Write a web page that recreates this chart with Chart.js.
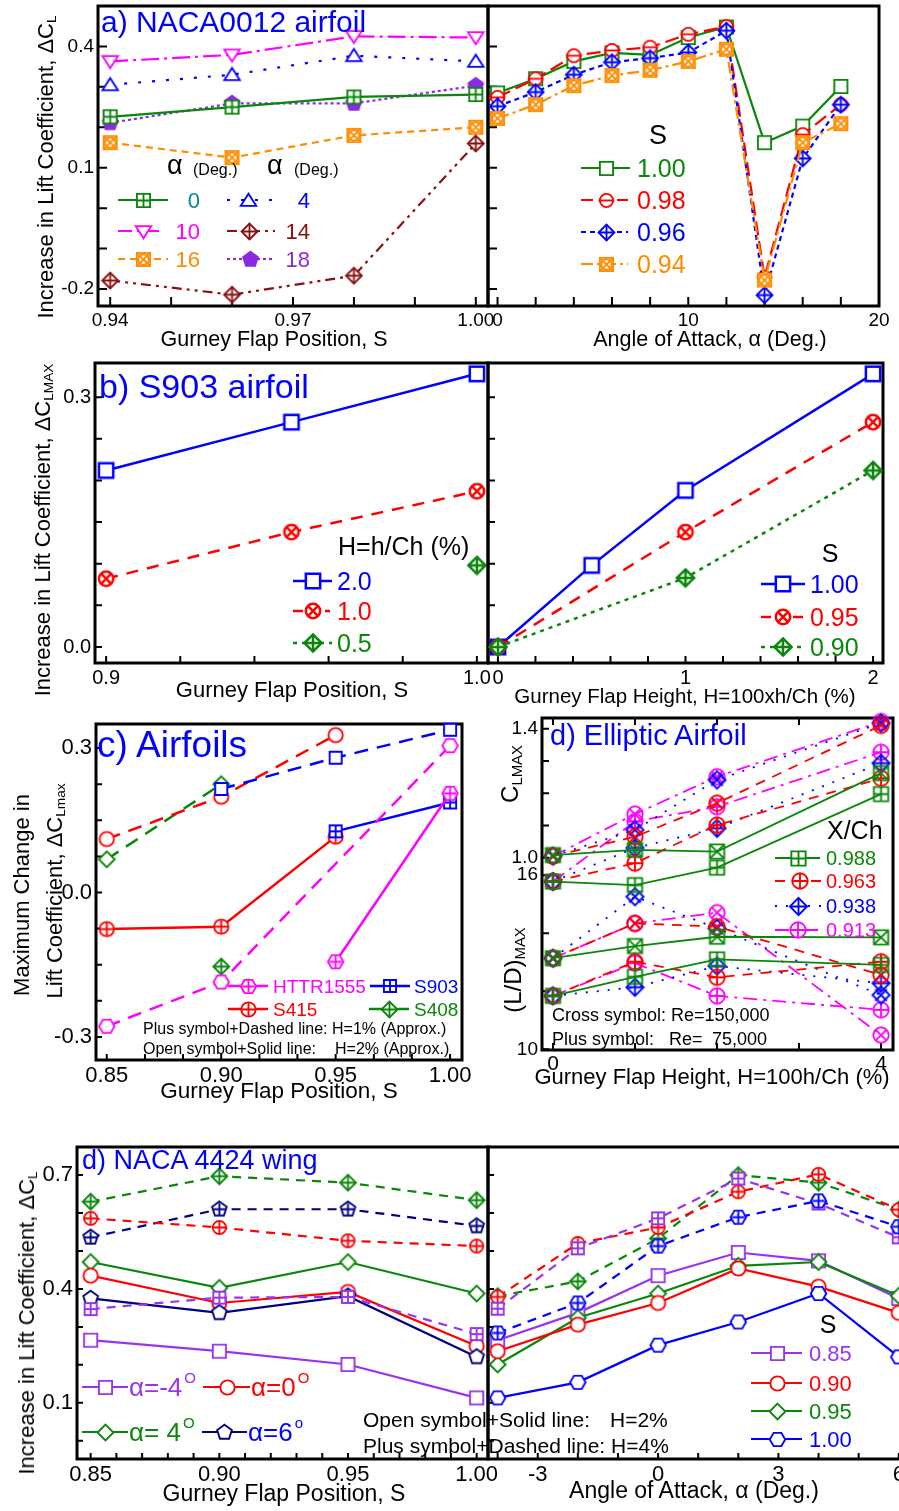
<!DOCTYPE html>
<html>
<head>
<meta charset="utf-8">
<title>Gurney flap lift increments</title>
<script src="https://cdn.jsdelivr.net/npm/chart.js@4.4.1/dist/chart.umd.min.js"></script>
<style>
  html, body { margin: 0; padding: 0; width: 899px; height: 1511px; overflow: hidden; background: #fff; }
  body { position: relative; font-family: "Liberation Sans", Arial, Helvetica, sans-serif; }
  canvas { position: absolute; }
  .t { position: absolute; white-space: pre; line-height: 1; color: #000; }
  .r { position: absolute; white-space: nowrap; line-height: 1; color: #000; transform: translate(-50%, -50%) rotate(-90deg); }
  sub { font-size: 0.62em; vertical-align: -0.25em; line-height: 0; }
</style>
</head>
<body>
<script>
const FONT = '"Liberation Sans", Arial, Helvetica, sans-serif';
Chart.defaults.font.family = FONT;

// ---- a) NACA0012, dCL vs flap position (one line per alpha) ----
const posA = [0.94, 0.96, 0.98, 1.00];
const dclAlpha0  = [0.226, 0.250, 0.275, 0.281];
const dclAlpha4  = [0.305, 0.330, 0.377, 0.363];
const dclAlpha10 = [0.363, 0.379, 0.425, 0.422];
const dclAlpha14 = [-0.179, -0.214, -0.167, 0.160];
const dclAlpha16 = [0.162, 0.125, 0.180, 0.200];
const dclAlpha18 = [0.211, 0.259, 0.259, 0.303];
// ---- a) NACA0012, dCL vs angle of attack (one line per S) ----
const aoaA = [0, 2, 4, 6, 8, 10, 12, 14, 16, 18];
const dclS100 = [0.285, 0.320, 0.363, 0.384, 0.379, 0.422, 0.448, 0.162, 0.203, 0.301];
const dclS098 = [0.274, 0.320, 0.377, 0.390, 0.398, 0.430, 0.449, -0.171, 0.182, 0.256];
const dclS096 = [0.252, 0.287, 0.330, 0.361, 0.371, 0.385, 0.439, -0.215, 0.123, 0.256];
const dclS094 = [0.222, 0.256, 0.303, 0.328, 0.341, 0.363, 0.393, -0.178, 0.162, 0.209];
const xTicksPosA = [0.94, 0.95, 0.96, 0.97, 0.98, 0.99, 1.00];
const xLabPosA   = ['0.94', '', '', '0.97', '', '', '1.00'];
const xTicksAoaA = [0, 2, 4, 6, 8, 10, 12, 14, 16, 18, 20];
const xLabAoaA   = ['0', '', '', '', '', '10', '', '', '', '', '20'];
const yTicksA = [-0.2, -0.1, 0, 0.1, 0.2, 0.3, 0.4];
const yLabA   = ['-0.2', '', '', '0.1', '', '', '0.4'];

// ---- b) S903 ----
const posB = [0.90, 0.95, 1.00];
const dclH20 = [0.212, 0.270, 0.328];
const dclH10 = [0.082, 0.138, 0.187];
const posB05 = [1.00];
const dclH05 = [0.098];
const hB100 = [0, 0.5, 1, 2];
const dclB100 = [0, 0.098, 0.188, 0.328];
const hB = [0, 1, 2];
const dclB095 = [0, 0.138, 0.270];
const dclB090 = [0, 0.083, 0.212];
const xTicksPosB = [0.90, 0.92, 0.94, 0.96, 0.98, 1.00];
const xLabPosB   = ['0.9', '', '', '', '', '1.0'];
const xTicksHB = [0, 0.2, 0.4, 0.6, 0.8, 1, 1.2, 1.4, 1.6, 1.8, 2];
const xLabHB   = ['0', '', '', '', '', '1', '', '', '', '', '2'];
const yTicksB = [0, 0.05, 0.10, 0.15, 0.20, 0.25, 0.30];
const yLabB   = ['0.0', '', '', '', '', '', '0.3'];

// ---- c) Airfoils (null = not measured) ----
const posC = [0.85, 0.90, 0.95, 1.00];
const httrSolid = [null, null, -0.144, 0.206];
const httrDash  = [-0.278, -0.186, null, 0.305];
const s415Solid = [-0.076, -0.071, 0.116, null];
const s415Dash  = [0.111, 0.199, 0.327, null];
const s903Solid = [null, null, 0.127, 0.187];
const s903Dash  = [null, 0.215, 0.280, 0.338];
const s408Solid = [null, -0.154, null, null];
const s408Dash  = [0.069, 0.225, null, null];
const xTicksC = [0.85, 0.8667, 0.8833, 0.90, 0.9167, 0.9333, 0.95, 0.9667, 0.9833, 1.00];
const xLabC   = ['0.85', '', '', '0.90', '', '', '0.95', '', '', '1.00'];
const yTicksC = [-0.3, -0.225, -0.15, -0.075, 0, 0.075, 0.15, 0.225, 0.3];
const yLabC   = ['-0.3', '', '', '', '0.0', '', '', '', '0.3'];

// ---- d) Elliptic airfoil: X = Re 150,000 (cross), P = Re 75,000 (plus) ----
const hD = [0, 1, 2, 4];
const clX988 = [1.008, 1.024, 1.019, 1.262];
const clP988 = [0.926, 0.915, 0.969, 1.197];
const clX963 = [1.005, 1.065, 1.169, 1.410];
const clP963 = [0.926, 0.983, 1.101, 1.246];
const clX938 = [1.005, 1.086, 1.241, 1.417];
const clP938 = [0.926, 1.030, 1.091, 1.293];
const clX913 = [1.005, 1.135, 1.251, 1.422];
const clP913 = [0.926, 1.112, 1.158, 1.327];
const ldX988 = [13.14, 13.56, 13.88, 13.86];
const ldP988 = [11.84, 12.50, 13.10, 12.91];
const ldX963 = [13.14, 14.34, 14.23, 12.56];
const ldP963 = [11.84, 13.02, 12.48, 13.02];
const ldX938 = [13.14, 15.26, 14.17, 11.87];
const ldP938 = [11.84, 12.14, 12.87, 12.28];
const ldX913 = [13.14, 14.34, 14.71, 10.49];
const ldP913 = [11.84, 12.97, 11.84, 11.36];
const xTicksD = [0, 1, 2, 3, 4];
const xLabD   = ['0', '', '', '', '4'];
const yTicksLD = [10, 12, 14, 16];
const yLabLD   = ['10', '', '', '16'];
const yTicksCL = [1.0, 1.1, 1.2, 1.3, 1.4];
const yLabCL   = ['1.0', '', '', '', '1.4'];

// ---- d) NACA 4424 wing: solid H=2%, dashed H=4% ----
const posW = [0.85, 0.90, 0.95, 1.00];
const wSolidM4 = [0.265, 0.236, 0.201, 0.113];
const wSolid0  = [0.435, 0.363, 0.392, 0.250];
const wSolid4  = [0.471, 0.403, 0.471, 0.388];
const wSolid6  = [0.375, 0.337, 0.381, 0.221];
const wDashM4  = [0.347, 0.377, 0.379, 0.281];
const wDash0   = [0.586, 0.562, 0.527, 0.513];
const wDash4   = [0.630, 0.697, 0.680, 0.634];
const wDash6   = [0.536, 0.610, 0.610, 0.566];
const aoaW = [-4, -2, 0, 2, 4, 6];
const wS085  = [0.265, 0.337, 0.435, 0.496, 0.474, 0.375];
const wS090  = [0.236, 0.306, 0.363, 0.454, 0.406, 0.337];
const wS095  = [0.201, 0.324, 0.388, 0.461, 0.471, 0.382];
const wS100  = [0.113, 0.154, 0.252, 0.313, 0.388, 0.221];
const wS085d = [0.348, 0.507, 0.586, 0.691, 0.625, 0.536];
const wS090d = [0.379, 0.520, 0.562, 0.656, 0.702, 0.609];
const wS095d = [0.381, 0.420, 0.533, 0.700, 0.680, 0.609];
const wS100d = [0.284, 0.363, 0.513, 0.589, 0.632, 0.564];
const xTicksPosW = [0.85, 0.86, 0.87, 0.88, 0.89, 0.90, 0.91, 0.92, 0.93, 0.94, 0.95, 0.96, 0.97, 0.98, 0.99, 1.00];
const xLabPosW   = ['0.85', '', '', '', '', '0.90', '', '', '', '', '0.95', '', '', '', '', '1.00'];
const xTicksAoaW = [-4, -3, -2, -1, 0, 1, 2, 3, 4, 5, 6];
const xLabAoaW   = ['', '-3', '', '', '0', '', '', '3', '', '', '6'];
const yTicksW = [0, 0.1, 0.2, 0.3, 0.4, 0.5, 0.6, 0.7];
const yLabW   = ['', '0.1', '', '', '0.4', '', '', '0.7'];

const G = '#0a870a', R = '#ff0000', B = '#0000ff', M = '#ff00ff', O = '#ff8c00';
const DR = '#8b1010', P = '#8a2be2', TEAL = '#008b8b', NV = '#000080', PW = '#9933ee';
const W = '#fff';

// marker glyphs drawn into small canvases, used as Chart.js pointStyle
function mk(shape, deco, color, size, lw, fill) {
  size *= 1.1;
  lw *= 1.25;
  const r = size / 2;
  const s = Math.ceil(size * 1.3 + lw * 2 + 2);
  const c = document.createElement('canvas');
  c.width = c.height = s;
  const g = c.getContext('2d');
  g.translate(s / 2, s / 2);
  g.strokeStyle = color;
  g.lineWidth = lw;
  g.beginPath();
  let e = r;
  if (shape === 'sq' || shape === 'sc') g.rect(-r, -r, 2 * r, 2 * r);
  else if (shape === 'c') g.arc(0, 0, r, 0, Math.PI * 2);
  else if (shape === 'd') { const q = r * 1.2; g.moveTo(0, -q); g.lineTo(q, 0); g.lineTo(0, q); g.lineTo(-q, 0); g.closePath(); e = q; }
  else if (shape === 'tu') { g.moveTo(0, -r * 0.95); g.lineTo(r * 1.08, r * 0.75); g.lineTo(-r * 1.08, r * 0.75); g.closePath(); }
  else if (shape === 'td') { g.moveTo(0, r * 0.95); g.lineTo(r * 1.08, -r * 0.75); g.lineTo(-r * 1.08, -r * 0.75); g.closePath(); }
  else {
    const n = shape === 'p' ? 5 : 6, a0 = shape === 'p' ? -Math.PI / 2 : 0, q = r * 1.08;
    for (let k = 0; k < n; k++) {
      const a = a0 + k * 2 * Math.PI / n;
      if (k) g.lineTo(q * Math.cos(a), q * Math.sin(a)); else g.moveTo(q * Math.cos(a), q * Math.sin(a));
    }
    g.closePath();
    e = r * 0.85;
  }
  if (fill) { g.fillStyle = fill; g.fill(); }
  g.stroke();
  g.beginPath();
  if (deco === '+') { g.moveTo(-e, 0); g.lineTo(e, 0); g.moveTo(0, -e); g.lineTo(0, e); }
  if (deco === 'x') {
    const q = (shape === 'sq' || shape === 'sc') ? r : (shape === 'd' ? r * 0.8 : r * 0.707);
    g.moveTo(-q, -q); g.lineTo(q, q); g.moveTo(q, -q); g.lineTo(-q, q);
  }
  if (deco === '-') { g.moveTo(-r * 1.2, 0); g.lineTo(r * 1.2, 0); }
  g.stroke();
  if (shape === 'sc') { g.beginPath(); g.arc(0, 0, r * 0.8, 0, Math.PI * 2); g.stroke(); }
  return c;
}

function ds(xv, yv, color, dash, marker, lw, axis) {
  return {
    data: xv.map((x, i) => ({ x, y: yv[i] })).filter(p => p.y != null),
    borderColor: color, borderWidth: lw || 2.2, borderDash: dash || [],
    pointStyle: marker, pointRadius: 6, tension: 0, fill: false, clip: false,
    yAxisID: axis || 'y'
  };
}

function drawLegend(ctx, items, ox, oy) {
  items.forEach(it => {
    const y = it.y - oy;
    ctx.save();
    if (it.x1 != null) {
      ctx.strokeStyle = it.color; ctx.lineWidth = it.lw || 2.2; ctx.setLineDash(it.dash || []);
      ctx.beginPath(); ctx.moveTo(it.x1 - ox, y); ctx.lineTo(it.x2 - ox, y); ctx.stroke();
      ctx.setLineDash([]);
    }
    if (it.mk) ctx.drawImage(it.mk, Math.round(it.mx - ox - it.mk.width / 2), Math.round(y - it.mk.height / 2));
    if (it.text != null) {
      ctx.font = it.fs + 'px ' + FONT;
      ctx.fillStyle = it.tc || it.color;
      ctx.textAlign = it.align || 'left';
      ctx.textBaseline = 'alphabetic';
      const by = y + 0.36 * it.fs;
      ctx.fillText(it.text, it.tx - ox, by);
      if (it.sup) {
        const w = ctx.measureText(it.text).width;
        ctx.font = '15px ' + FONT;
        ctx.fillText(it.sup, it.tx - ox + w + 2, by - it.fs * 0.5);
      }
    }
    ctx.restore();
  });
}

// frame, inward ticks, second axis and legend
Chart.register({
  id: 'frame',
  beforeDatasetsDraw(chart) {
    const cfg = chart.canvas._cfg, ctx = chart.ctx, a = chart.chartArea, sc = chart.scales;
    const L = cfg.tick || 8;
    ctx.save();
    ctx.strokeStyle = '#000';
    ctx.lineWidth = 2;
    ctx.beginPath();
    sc.x.ticks.forEach(t => {
      const px = sc.x.getPixelForValue(t.value);
      ctx.moveTo(px, a.bottom); ctx.lineTo(px, a.bottom - L);
      if (cfg.topTicks) { ctx.moveTo(px, a.top); ctx.lineTo(px, a.top + L); }
    });
    ['y', 'y2'].forEach(id => {
      const s = sc[id];
      if (!s) return;
      s.ticks.forEach(t => { const py = s.getPixelForValue(t.value); ctx.moveTo(a.left, py); ctx.lineTo(a.left + L, py); });
    });
    ctx.stroke();
    ctx.lineWidth = 3;
    ctx.strokeRect(a.left, a.top, a.right - a.left, a.bottom - a.top);
    if (cfg.y2a) {
      ctx.fillStyle = '#000';
      ctx.font = cfg.y2a.fs + 'px ' + FONT;
      ctx.textAlign = 'right';
      ctx.textBaseline = 'middle';
      sc.y2.ticks.forEach((t, i) => ctx.fillText(cfg.y2a.labels[i], a.left - cfg.y2a.pad, sc.y2.getPixelForValue(t.value)));
    }
    ctx.restore();
  },
  afterDatasetsDraw(chart) {
    const cfg = chart.canvas._cfg;
    if (cfg.legend) drawLegend(chart.ctx, cfg.legend, cfg.ox, cfg.oy);
  }
});

function axisOpts(a, fitFn) {
  return {
    type: 'linear', min: a.min, max: a.max, display: a.display !== false,
    afterBuildTicks: s => { s.ticks = a.ticks.map(v => ({ value: v })); },
    afterFit: s => { fitFn(s); s.paddingLeft = 0; s.paddingRight = 0; s.paddingTop = 0; s.paddingBottom = 0; },
    grid: { display: false, drawTicks: false },
    border: { display: false },
    ticks: {
      autoSkip: false, maxRotation: 0, minRotation: 0, padding: a.pad, color: '#000',
      font: { family: FONT, size: a.fs }, callback: (v, i) => a.labels[i]
    }
  };
}

function panel(cv, box, xa, ya, datasets, extra, y2a) {
  const c = document.createElement('canvas');
  c.width = cv.w; c.height = cv.h;
  c.style.left = cv.x + 'px'; c.style.top = cv.y + 'px';
  c.style.width = cv.w + 'px'; c.style.height = cv.h + 'px';
  document.body.appendChild(c);
  c._cfg = Object.assign({ ox: cv.x, oy: cv.y, y2a }, extra);
  const scales = {
    x: axisOpts(xa, s => { s.height = cv.y + cv.h - box.b; }),
    y: axisOpts(ya, s => { s.width = box.l - cv.x; })
  };
  if (y2a) scales.y2 = axisOpts(Object.assign({ display: false }, y2a), () => {});
  return new Chart(c, {
    type: 'line',
    data: { datasets },
    options: {
      responsive: false, animation: false, events: [],
      layout: { autoPadding: false, padding: { top: box.t - cv.y, right: cv.x + cv.w - box.r, left: 0, bottom: 0 } },
      plugins: { legend: { display: false }, tooltip: { enabled: false } },
      scales
    }
  });
}

function txt(x, base, html, fs, color, center) {
  const d = document.createElement('div');
  d.className = 't';
  d.style.left = x + 'px';
  d.style.top = (base - 0.8465 * fs).toFixed(1) + 'px';
  d.style.fontSize = fs + 'px';
  if (color) d.style.color = color;
  if (center) d.style.transform = 'translateX(-50%)';
  d.innerHTML = html;
  document.body.appendChild(d);
}
function rot(cx, cy, html, fs) {
  const d = document.createElement('div');
  d.className = 'r';
  d.style.left = cx + 'px'; d.style.top = cy + 'px'; d.style.fontSize = fs + 'px';
  d.innerHTML = html;
  document.body.appendChild(d);
}

// ================= Row 1: a) NACA0012 =================
panel({ x: 0, y: 0, w: 520, h: 355 }, { l: 98, t: 6, r: 488, b: 306 },
  { min: 0.938, max: 1.002, ticks: xTicksPosA, labels: xLabPosA, fs: 19, pad: 3 },
  { min: -0.242, max: 0.5, ticks: yTicksA, labels: yLabA, fs: 19, pad: 4 },
  [
    ds(posA, dclAlpha14, DR, [10, 5, 3, 5, 3, 5], mk('d', '+', DR, 12, 1.5, W)),
    ds(posA, dclAlpha16, O, [7, 5], mk('sc', 'x', O, 12, 1.5, W)),
    ds(posA, dclAlpha0, G, [], mk('sq', '+', G, 12, 1.5, W)),
    ds(posA, dclAlpha18, P, [3, 3], mk('p', '', P, 13, 1.5, P)),
    ds(posA, dclAlpha4, B, [3, 11], mk('tu', '', B, 13, 1.5, W)),
    ds(posA, dclAlpha10, M, [18, 5, 3, 5], mk('td', '', M, 13, 1.5, W))
  ],
  { tick: 9, legend: [
    { x1: 118, x2: 168, y: 200, color: G, dash: [], mk: mk('sq', '+', G, 12, 1.5, W), mx: 143, text: '0', tx: 200, align: 'right', tc: TEAL, fs: 22 },
    { x1: 227, x2: 272, y: 200, color: B, dash: [3, 11], mk: mk('tu', '', B, 13, 1.5, W), mx: 248, text: '4', tx: 310, align: 'right', fs: 22 },
    { x1: 118, x2: 164, y: 231, color: M, dash: [14, 5, 3, 5], mk: mk('td', '', M, 13, 1.5, W), mx: 143, text: '10', tx: 200, align: 'right', fs: 22 },
    { x1: 227, x2: 275, y: 231, color: DR, dash: [10, 5, 3, 5], mk: mk('d', '+', DR, 12, 1.5, W), mx: 249, text: '14', tx: 310, align: 'right', fs: 22 },
    { x1: 118, x2: 168, y: 259, color: O, dash: [7, 5], mk: mk('sc', 'x', O, 12, 1.5, W), mx: 143, text: '16', tx: 200, align: 'right', fs: 22 },
    { x1: 227, x2: 275, y: 259, color: P, dash: [3, 3], mk: mk('p', '', P, 13, 1.5, P), mx: 250, text: '18', tx: 310, align: 'right', fs: 22 }
  ] });

panel({ x: 470, y: 0, w: 429, h: 355 }, { l: 488, t: 6, r: 879, b: 306 },
  { min: -0.5, max: 20, ticks: xTicksAoaA, labels: xLabAoaA, fs: 19, pad: 3 },
  { min: -0.242, max: 0.5, ticks: yTicksA, labels: yTicksA.map(() => ''), fs: 19, pad: 4 },
  [
    ds(aoaA, dclS094, O, [12, 4, 3, 4], mk('sc', 'x', O, 12, 1.5, W)),
    ds(aoaA, dclS096, B, [5, 4], mk('d', '+', B, 12, 1.5, W)),
    ds(aoaA, dclS098, R, [14, 6], mk('c', '-', R, 12, 1.5, W)),
    ds(aoaA, dclS100, G, [], mk('sq', '', G, 12, 1.5, W))
  ],
  { tick: 9, legend: [
    { x1: 581, x2: 630, y: 168, color: G, dash: [], mk: mk('sq', '', G, 12, 1.5, W), mx: 606, text: '1.00', tx: 637, fs: 25 },
    { x1: 581, x2: 628, y: 200, color: R, dash: [12, 6], mk: mk('c', '-', R, 12, 1.5, W), mx: 606, text: '0.98', tx: 637, fs: 25 },
    { x1: 581, x2: 628, y: 232, color: B, dash: [5, 4], mk: mk('d', '+', B, 12, 1.5, W), mx: 606, text: '0.96', tx: 637, fs: 25 },
    { x1: 581, x2: 628, y: 264, color: O, dash: [12, 4, 3, 4], mk: mk('sc', 'x', O, 12, 1.5, W), mx: 606, text: '0.94', tx: 637, fs: 25 }
  ] });

// ================= Row 2: b) S903 =================
panel({ x: 0, y: 355, w: 520, h: 355 }, { l: 95, t: 363, r: 488, b: 663 },
  { min: 0.897, max: 1.003, ticks: xTicksPosB, labels: xLabPosB, fs: 20, pad: 3 },
  { min: -0.0192, max: 0.341, ticks: yTicksB, labels: yLabB, fs: 20, pad: 4 },
  [
    ds(posB, dclH20, B, [], mk('sq', '', B, 13, 2, W), 2.5),
    ds(posB, dclH10, R, [12, 9], mk('c', 'x', R, 13, 2, W), 2.5),
    ds(posB05, dclH05, G, [4, 5], mk('d', '+', G, 13, 2, W), 2.5)
  ],
  { tick: 7, legend: [
    { x1: 293, x2: 332, y: 581, color: B, lw: 2.5, dash: [], mk: mk('sq', '', B, 13, 2, W), mx: 313, text: '2.0', tx: 337, fs: 25 },
    { x1: 293, x2: 330, y: 611, color: R, lw: 2.5, dash: [10, 6], mk: mk('c', 'x', R, 13, 2, W), mx: 313, text: '1.0', tx: 337, fs: 25 },
    { x1: 293, x2: 332, y: 643, color: G, lw: 2.5, dash: [4, 5], mk: mk('d', '+', G, 13, 2, W), mx: 313, text: '0.5', tx: 337, fs: 25 }
  ] });

panel({ x: 470, y: 355, w: 429, h: 355 }, { l: 488, t: 363, r: 883, b: 663 },
  { min: -0.053, max: 2.053, ticks: xTicksHB, labels: xLabHB, fs: 20, pad: 3 },
  { min: -0.0192, max: 0.341, ticks: yTicksB, labels: yTicksB.map(() => ''), fs: 20, pad: 4 },
  [
    ds(hB, dclB090, G, [4, 5], mk('d', '+', G, 13, 2, W), 2.5),
    ds(hB, dclB095, R, [12, 9], mk('c', 'x', R, 13, 2, W), 2.5),
    ds(hB100, dclB100, B, [], mk('sq', '', B, 13, 2, W), 2.5)
  ],
  { tick: 7, legend: [
    { x1: 761, x2: 805, y: 584, color: B, lw: 2.5, dash: [], mk: mk('sq', '', B, 13, 2, W), mx: 783, text: '1.00', tx: 810, fs: 25 },
    { x1: 761, x2: 805, y: 617, color: R, lw: 2.5, dash: [10, 6], mk: mk('c', 'x', R, 13, 2, W), mx: 783, text: '0.95', tx: 810, fs: 25 },
    { x1: 761, x2: 805, y: 647, color: G, lw: 2.5, dash: [4, 5], mk: mk('d', '+', G, 13, 2, W), mx: 783, text: '0.90', tx: 810, fs: 25 }
  ] });

// ================= Row 3: c) Airfoils =================
panel({ x: 0, y: 712, w: 480, h: 400 }, { l: 96, t: 724, r: 462, b: 1060 },
  { min: 0.8453, max: 1.0052, ticks: xTicksC, labels: xLabC, fs: 22, pad: 3 },
  { min: -0.348, max: 0.35, ticks: yTicksC, labels: yLabC, fs: 22, pad: 4 },
  [
    ds(posC, httrDash, M, [14, 9], mk('h', '', M, 13, 1.5, W), 2.5),
    ds(posC, httrSolid, M, [], mk('h', '+', M, 13, 1.5, W), 2.5),
    ds(posC, s903Dash, B, [14, 9], mk('sq', '', B, 11, 1.5, W), 2.5),
    ds(posC, s903Solid, B, [], mk('sq', '+', B, 11, 1.5, W), 2.5),
    ds(posC, s415Dash, R, [14, 9], mk('c', '', R, 13, 1.5, W), 2.5),
    ds(posC, s415Solid, R, [], mk('c', '+', R, 13, 1.5, W), 2.5),
    ds(posC, s408Dash, G, [14, 9], mk('d', '', G, 12, 1.5, W), 2.5),
    ds(posC, s408Solid, G, [], mk('d', '+', G, 12, 1.5, W), 2.5)
  ],
  { tick: 6, legend: [
    { x1: 228, x2: 268, y: 986, color: M, lw: 2.5, dash: [], mk: mk('h', '+', M, 13, 1.5, W), mx: 248, text: 'HTTR1555', tx: 273, fs: 19 },
    { x1: 370, x2: 410, y: 986, color: B, lw: 2.5, dash: [], mk: mk('sq', '+', B, 11, 1.5, W), mx: 390, text: 'S903', tx: 414, fs: 19 },
    { x1: 228, x2: 268, y: 1009, color: R, lw: 2.5, dash: [], mk: mk('c', '+', R, 13, 1.5, W), mx: 248, text: 'S415', tx: 273, fs: 19 },
    { x1: 369, x2: 409, y: 1009, color: G, lw: 2.5, dash: [], mk: mk('d', '+', G, 12, 1.5, W), mx: 389, text: 'S408', tx: 414, fs: 19 }
  ] });

// ================= Row 3: d) Elliptic airfoil =================
panel({ x: 480, y: 712, w: 419, h: 400 }, { l: 542, t: 718, r: 893, b: 1050 },
  { min: -0.134, max: 4.146, ticks: xTicksD, labels: xLabD, fs: 21, pad: 2 },
  { min: 9.976, max: 21.42, ticks: yTicksLD, labels: yLabLD, fs: 19, pad: 4 },
  [
    ds(hD, clX988, G, [], mk('sq', 'x', G, 13, 1.5), 1.8, 'y2'),
    ds(hD, clP988, G, [], mk('sq', '+', G, 13, 1.5), 1.8, 'y2'),
    ds(hD, clX963, R, [10, 8], mk('c', 'x', R, 14, 1.5), 1.8, 'y2'),
    ds(hD, clP963, R, [10, 8], mk('c', '+', R, 14, 1.5), 1.8, 'y2'),
    ds(hD, clX938, B, [2, 9], mk('d', 'x', B, 13, 1.5), 1.8, 'y2'),
    ds(hD, clP938, B, [2, 9], mk('d', '+', B, 13, 1.5), 1.8, 'y2'),
    ds(hD, clX913, M, [14, 6, 3, 6], mk('c', 'x', M, 14, 1.5), 1.8, 'y2'),
    ds(hD, clP913, M, [14, 6, 3, 6], mk('c', '+', M, 14, 1.5), 1.8, 'y2'),
    ds(hD, ldX988, G, [], mk('sq', 'x', G, 13, 1.5), 1.8),
    ds(hD, ldP988, G, [], mk('sq', '+', G, 13, 1.5), 1.8),
    ds(hD, ldX963, R, [10, 8], mk('c', 'x', R, 14, 1.5), 1.8),
    ds(hD, ldP963, R, [10, 8], mk('c', '+', R, 14, 1.5), 1.8),
    ds(hD, ldX938, B, [2, 9], mk('d', 'x', B, 13, 1.5), 1.8),
    ds(hD, ldP938, B, [2, 9], mk('d', '+', B, 13, 1.5), 1.8),
    ds(hD, ldX913, M, [14, 6, 3, 6], mk('c', 'x', M, 14, 1.5), 1.8),
    ds(hD, ldP913, M, [14, 6, 3, 6], mk('c', '+', M, 14, 1.5), 1.8)
  ],
  { tick: 7, topTicks: true, legend: [
    { x1: 775, x2: 820, y: 858, color: G, lw: 1.8, dash: [], mk: mk('sq', '+', G, 13, 1.5, W), mx: 798, text: '0.988', tx: 826, fs: 20 },
    { x1: 775, x2: 822, y: 881, color: R, lw: 1.8, dash: [10, 8], mk: mk('c', '+', R, 14, 1.5, W), mx: 800, text: '0.963', tx: 826, fs: 20 },
    { x1: 775, x2: 822, y: 906, color: B, lw: 1.8, dash: [2, 9], mk: mk('d', '+', B, 13, 1.5, W), mx: 798, text: '0.938', tx: 826, fs: 20 },
    { x1: 775, x2: 822, y: 930, color: M, lw: 1.8, dash: [14, 6, 3, 6], mk: mk('c', '+', M, 14, 1.5, W), mx: 798, text: '0.913', tx: 826, fs: 20 }
  ] },
  { min: 0.4037, max: 1.433, ticks: yTicksCL, labels: yLabCL, fs: 19, pad: 4 });

// ================= Row 4: d) NACA 4424 wing =================
panel({ x: 0, y: 1140, w: 520, h: 371 }, { l: 77, t: 1147, r: 488, b: 1459 },
  { min: 0.8447, max: 1.0044, ticks: xTicksPosW, labels: xLabPosW, fs: 22, pad: 3 },
  { min: -0.048, max: 0.774, ticks: yTicksW, labels: yLabW, fs: 22, pad: 4 },
  [
    ds(posW, wDashM4, PW, [9, 7], mk('sq', '+', PW, 11, 1.5, W)),
    ds(posW, wDash0, R, [9, 7], mk('c', '+', R, 12, 1.5, W)),
    ds(posW, wDash6, NV, [9, 7], mk('p', '+', NV, 13, 1.5, W)),
    ds(posW, wDash4, G, [9, 7], mk('d', '+', G, 12, 1.5, W)),
    ds(posW, wSolidM4, PW, [], mk('sq', '', PW, 12, 1.5, W)),
    ds(posW, wSolid6, NV, [], mk('p', '', NV, 13, 1.5, W)),
    ds(posW, wSolid0, R, [], mk('c', '', R, 13, 1.5, W)),
    ds(posW, wSolid4, G, [], mk('d', '', G, 12, 1.5, W))
  ],
  { tick: 6, legend: [
    { x1: 82, x2: 128, y: 1387, color: PW, dash: [], mk: mk('sq', '', PW, 12, 1.5, W), mx: 105, text: 'α=-4', sup: 'O', tx: 129, fs: 26 },
    { x1: 203, x2: 250, y: 1387, color: R, dash: [], mk: mk('c', '', R, 13, 1.5, W), mx: 227, text: 'α=0', sup: 'O', tx: 251, fs: 26 },
    { x1: 82, x2: 128, y: 1432, color: G, dash: [], mk: mk('d', '', G, 12, 1.5, W), mx: 105, text: 'α= 4', sup: 'O', tx: 129, fs: 26 },
    { x1: 202, x2: 247, y: 1432, color: NV, dash: [], mk: mk('p', '', NV, 13, 1.5, W), mx: 224, text: 'α=6', sup: 'o', tx: 248, tc: B, fs: 26 }
  ] });

panel({ x: 470, y: 1140, w: 470, h: 371 }, { l: 488, t: 1147, r: 912, b: 1459 },
  { min: -4.24, max: 6.33, ticks: xTicksAoaW, labels: xLabAoaW, fs: 22, pad: 3 },
  { min: -0.048, max: 0.774, ticks: yTicksW, labels: yTicksW.map(() => ''), fs: 22, pad: 4 },
  [
    ds(aoaW, wS100d, B, [9, 7], mk('h', '+', B, 13, 1.5, W)),
    ds(aoaW, wS085d, PW, [9, 7], mk('sq', '+', PW, 11, 1.5, W)),
    ds(aoaW, wS090d, R, [9, 7], mk('c', '+', R, 12, 1.5, W)),
    ds(aoaW, wS095d, G, [9, 7], mk('d', '+', G, 12, 1.5, W)),
    ds(aoaW, wS100, B, [], mk('h', '', B, 13, 1.5, W)),
    ds(aoaW, wS090, R, [], mk('c', '', R, 13, 1.5, W)),
    ds(aoaW, wS095, G, [], mk('d', '', G, 12, 1.5, W)),
    ds(aoaW, wS085, PW, [], mk('sq', '', PW, 12, 1.5, W))
  ],
  { tick: 6, legend: [
    { x1: 751, x2: 802, y: 1353, color: PW, dash: [], mk: mk('sq', '', PW, 12, 1.5, W), mx: 777, text: '0.85', tx: 809, fs: 22 },
    { x1: 751, x2: 802, y: 1383, color: R, dash: [], mk: mk('c', '', R, 13, 1.5, W), mx: 777, text: '0.90', tx: 809, fs: 22 },
    { x1: 751, x2: 802, y: 1411, color: G, dash: [], mk: mk('d', '', G, 12, 1.5, W), mx: 777, text: '0.95', tx: 809, fs: 22 },
    { x1: 751, x2: 802, y: 1439, color: B, dash: [], mk: mk('h', '', B, 13, 1.5, W), mx: 777, text: '1.00', tx: 809, fs: 22 }
  ] });

// ================= texts =================
txt(101, 32, 'a) NACA0012 airfoil', 30, B);
rot(46, 167, 'Increase in Lift Coefficient, ΔC<sub>L</sub>', 22);
txt(274, 347, 'Gurney Flap Position, S', 21.5, null, true);
txt(710, 347, 'Angle of Attack, α (Deg.)', 21.5, null, true);
txt(167, 175, 'α', 27); txt(193, 175, '(Deg.)', 16);
txt(267, 175, 'α', 27); txt(294, 175, '(Deg.)', 16);
txt(658, 145, 'S', 27, null, true);

txt(99, 398, 'b) S903 airfoil', 34, B);
rot(43, 530, 'Increase in Lift Coefficient, ΔC<sub>LMAX</sub>', 22);
txt(292, 698, 'Gurney Flap Position, S', 22, null, true);
txt(685, 703, 'Gurney Flap Height, H=100xh/Ch (%)', 20.5, null, true);
txt(338, 555, 'H=h/Ch (%)', 25);
txt(830, 562, 'S', 25, null, true);

txt(97, 757, 'c) Airfoils', 37, B);
rot(22, 895, 'Maximum Change in', 22);
rot(55, 891, 'Lift Coefficient, ΔC<sub>Lmax</sub>', 22);
txt(279, 1099, 'Gurney Flap Position, S', 22.5, null, true);
txt(143, 1034, 'Plus symbol+Dashed line: H=1% (Approx.)', 16);
txt(143, 1054, 'Open symbol+Solid line:', 16);
txt(335, 1054, 'H=2% (Approx.)', 16);

txt(550, 745, 'd) Elliptic Airfoil', 29, B);
rot(510, 774, 'C<sub>LMAX</sub>', 24);
rot(513, 970, '(L/D)<sub>MAX</sub>', 24);
txt(712, 1085, 'Gurney Flap Height, H=100h/Ch (%)', 22, null, true);
txt(827, 839, 'X/Ch', 25);
txt(552, 1021, 'Cross symbol: Re=150,000', 18);
txt(552, 1045, 'Plus symbol:', 18);
txt(669, 1045, 'Re=', 18);
txt(712, 1045, '75,000', 18);

txt(82, 1170, 'd) NACA 4424 wing', 27, B);
rot(27, 1323, 'Increase in Lift Coefficient, ΔC<sub>L</sub>', 22);
txt(284, 1501, 'Gurney Flap Position, S', 23, null, true);
txt(694, 1498, 'Angle of Attack, α (Deg.)', 23, null, true);
txt(363, 1427, 'Open symbol+Solid line:', 21);
txt(610, 1427, 'H=2%', 21);
txt(363, 1453, 'Plus symbol+Dashed line: H=4%', 21);
txt(828, 1333, 'S', 25, null, true);
</script>
</body>
</html>
